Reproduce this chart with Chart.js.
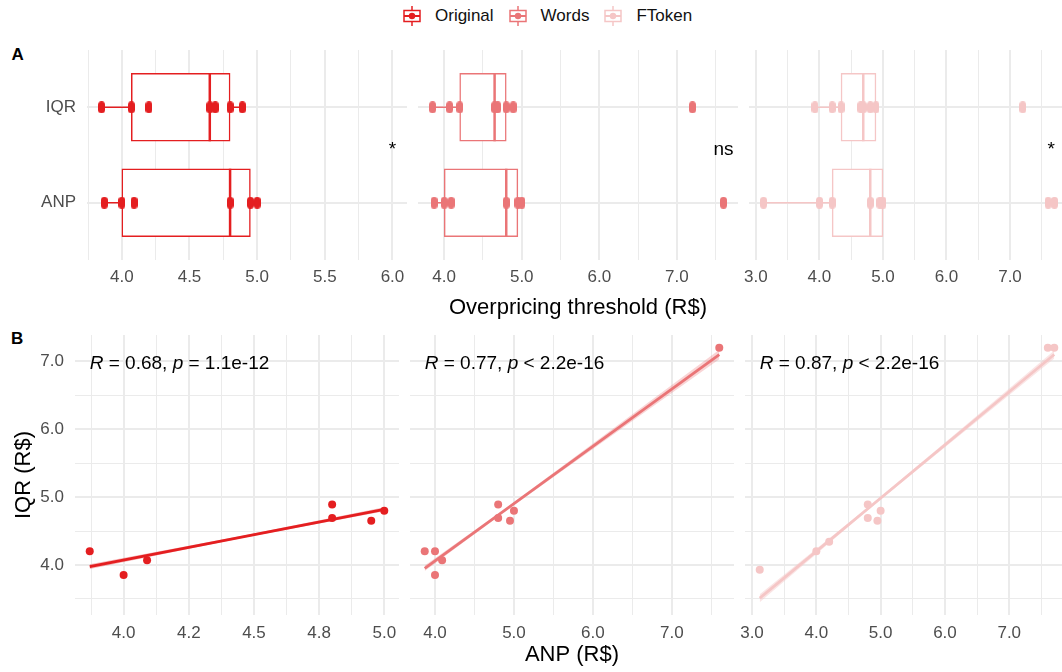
<!DOCTYPE html>
<html>
<head>
<meta charset="utf-8">
<script src="https://cdn.jsdelivr.net/npm/chart.js@4.4.1/dist/chart.umd.min.js"></script>
<style>
  html, body { margin: 0; padding: 0; background: #fff; }
  #fig { position: relative; width: 1062px; height: 672px; overflow: hidden; font-family: "Liberation Sans", Arial, sans-serif; }
  #fig canvas.plot { position: absolute; }
  .tag { position: absolute; font-weight: bold; font-size: 17px; line-height: 1; color: #000; }
  #legend { position: absolute; left: 403px; top: 6px; height: 20px; display: flex; align-items: center; font-size: 17px; line-height: 20px; color: #111; white-space: nowrap; }
  #legend .item { display: flex; align-items: center; margin-right: 15px; }
  #legend canvas { margin-right: 14px; }
</style>
</head>
<body>
<div id="fig">
  <div id="legend"></div>
  <div class="tag" style="left:11.5px; top:45.5px;">A</div>
  <div class="tag" style="left:11px; top:329.5px;">B</div>
  <canvas class="plot" id="a1" width="407" height="272" style="left:0px; top:50px;"></canvas>
  <canvas class="plot" id="a2" width="334" height="272" style="left:404px; top:50px;"></canvas>
  <canvas class="plot" id="a3" width="334" height="272" style="left:735px; top:50px;"></canvas>
  <canvas class="plot" id="b1" width="399" height="334" style="left:0px; top:335px;"></canvas>
  <canvas class="plot" id="b2" width="338" height="334" style="left:396px; top:335px;"></canvas>
  <canvas class="plot" id="b3" width="338" height="334" style="left:731px; top:335px;"></canvas>
</div>
<script>
const FONT = '"Liberation Sans", Arial, sans-serif';
Chart.defaults.font.family = FONT;
Chart.defaults.animation = false;

const methods = ['Original', 'Words', 'FToken'];
const methodColors = ['rgb(228,30,32)', 'rgb(234,117,119)', 'rgb(245,198,198)'];
const bandColors = ['rgba(228,30,32,0.3)', 'rgba(234,117,119,0.3)', 'rgba(245,198,198,0.45)'];

// thresholds (R$) per product, ANP and IQR, for each text source
const anpOriginal = [3.87, 4.0, 4.09, 4.8, 4.95, 5.0];
const iqrOriginal = [3.85, 4.07, 4.2, 4.65, 4.69, 4.8, 4.89];
const anpWords = [3.87, 4.0, 4.09, 4.8, 4.95, 5.0, 7.6];
const iqrWords = [3.85, 4.07, 4.2, 4.65, 4.69, 4.8, 4.89, 7.2];
const anpFToken = [3.12, 4.0, 4.2, 4.8, 4.95, 5.0, 7.6, 7.7];
const iqrFToken = [3.93, 4.2, 4.34, 4.65, 4.69, 4.8, 4.89, 7.2];

// box stats: lower whisker, q1, median, q3, upper whisker
const boxAnpOriginal = [3.87, 4.0, 4.8, 4.95, 5.0];
const boxIqrOriginal = [3.85, 4.07, 4.65, 4.8, 4.89];
const boxAnpWords = [3.87, 4.0, 4.8, 4.95, 5.0];
const boxIqrWords = [3.85, 4.2, 4.65, 4.8, 4.89];
const boxAnpFToken = [3.12, 4.2, 4.8, 5.0, 5.0];
const boxIqrFToken = [3.93, 4.34, 4.69, 4.89, 4.89];

const sigLabels = ['*', 'ns', '*'];
const sigX = [6.0, 7.6, 7.65];

// panel B: pairs (ANP, IQR)
const pairAnpOriginal = [3.87, 4.0, 4.09, 4.8, 4.8, 4.95, 5.0];
const pairIqrOriginal = [4.2, 3.85, 4.07, 4.89, 4.69, 4.65, 4.8];
const pairAnpWords = [3.87, 4.0, 4.0, 4.09, 4.8, 4.8, 4.95, 5.0, 7.6];
const pairIqrWords = [4.2, 4.2, 3.85, 4.07, 4.89, 4.69, 4.65, 4.8, 7.2];
const pairAnpFToken = [3.12, 4.0, 4.2, 4.8, 4.8, 4.95, 5.0, 7.6, 7.7];
const pairIqrFToken = [3.93, 4.2, 4.34, 4.89, 4.69, 4.65, 4.8, 7.2, 7.2];

// fitted lines and their bands
const fitX = [[3.87, 5.0], [3.87, 7.6], [3.12, 7.7]];
const fitY = [[3.975, 4.82], [3.95, 7.10], [3.51, 7.10]];
const bandX = [[3.87, 4.45, 5.0], [3.87, 4.9, 7.6], [3.12, 4.9, 7.7]];
const bandLo = [[3.94, 4.395, 4.79], [3.91, 4.80, 7.03], [3.45, 4.885, 7.04]];
const bandHi = [[4.01, 4.425, 4.85], [3.99, 4.84, 7.17], [3.57, 4.925, 7.16]];

const corR = ['0.68', '0.77', '0.87'];
const corP = ['= 1.1e-12', '< 2.2e-16', '< 2.2e-16'];
const corLabelY = 6.88;

// axes
const topRanges = [[3.7425, 6.1075], [3.6625, 7.7875], [2.891, 7.929]];
const bottomRanges = [[3.8135, 5.0565], [3.6835, 7.7865], [2.891, 7.929]];
const xMajors = [[4.0, 4.5, 5.0, 5.5, 6.0], [4, 5, 6, 7], [3, 4, 5, 6, 7]];
const xMajorLabels = [['4.0', '4.5', '5.0', '5.5', '6.0'], ['4.0', '5.0', '6.0', '7.0'], ['3.0', '4.0', '5.0', '6.0', '7.0']];
const xMinors = [[3.75, 4.25, 4.75, 5.25, 5.75], [4.5, 5.5, 6.5, 7.5], [3.5, 4.5, 5.5, 6.5, 7.5]];
const b1Majors = [4.0, 4.25, 4.5, 4.75, 5.0];
const b1Labels = ['4.0', '4.2', '4.5', '4.8', '5.0'];
const b1Minors = [3.875, 4.125, 4.375, 4.625, 4.875];
const yRangeB = [3.2625, 7.3875];
const yMajorsB = [4, 5, 6, 7];
const yLabelsB = ['4.0', '5.0', '6.0', '7.0'];
const yMinorsB = [3.5, 4.5, 5.5, 6.5];
const groupNames = ['ANP', 'IQR'];

const anpBy = [anpOriginal, anpWords, anpFToken];
const iqrBy = [iqrOriginal, iqrWords, iqrFToken];
const boxAnpBy = [boxAnpOriginal, boxAnpWords, boxAnpFToken];
const boxIqrBy = [boxIqrOriginal, boxIqrWords, boxIqrFToken];
const pairAnpBy = [pairAnpOriginal, pairAnpWords, pairAnpFToken];
const pairIqrBy = [pairIqrOriginal, pairIqrWords, pairIqrFToken];

// left gutter (px) of the canvases whose y labels are hidden, so edge tick labels are not cut
const GUTTER = 14;

function pill(color) {
  const c = document.createElement('canvas');
  c.width = 7; c.height = 12;
  const g = c.getContext('2d');
  g.fillStyle = color;
  g.beginPath();
  g.arc(3.5, 3.5, 3.5, Math.PI, 0);
  g.lineTo(7, 8.5);
  g.arc(3.5, 8.5, 3.5, 0, Math.PI);
  g.closePath();
  g.fill();
  return c;
}

function valueScale(range, majors, labels, minors, o) {
  return {
    type: 'linear', min: range[0], max: range[1], offset: false,
    afterBuildTicks: s => { s.ticks = majors.concat(minors).sort((a, b) => a - b).map(v => ({ value: v })); },
    afterFit: s => {
      if (s.isHorizontal()) s.height = o.size; else s.width = o.size;
      // keep the panel area fixed: no extra room for label overflow
      s.paddingTop = 0; s.paddingBottom = 0; s.paddingLeft = 0; s.paddingRight = 0;
    },
    ticks: {
      display: o.labels, autoSkip: false, maxRotation: 0, minRotation: 0, padding: o.pad,
      color: '#4d4d4d', font: { size: 17 },
      callback: v => { const i = majors.indexOf(v); return i < 0 ? '' : labels[i]; }
    },
    grid: { offset: false, drawTicks: false, color: '#ebebeb', lineWidth: c => (c.tick && minors.indexOf(c.tick.value) >= 0) ? 1 : 2 },
    border: { display: false },
    title: o.title ? { display: true, text: o.title, color: '#000', font: { size: 22 }, padding: o.titlePad } : { display: false }
  };
}

const notesPlugin = {
  id: 'notes',
  afterDatasetsDraw(chart, args, opts) {
    const ctx = chart.ctx;
    const items = opts.items || [];
    items.forEach(it => {
      let x = chart.scales.x.getPixelForValue(it.x);
      const y = chart.scales.y.getPixelForValue(it.y);
      ctx.save();
      ctx.fillStyle = '#000';
      ctx.textBaseline = 'alphabetic';
      if (it.center) {
        ctx.font = '19px ' + FONT;
        ctx.textAlign = 'center';
        ctx.fillText(it.parts[0][0], x, y);
      } else {
        ctx.textAlign = 'left';
        it.parts.forEach(p => {
          ctx.font = (p[1] ? 'italic ' : '') + '19px ' + FONT;
          ctx.fillText(p[0], x, y);
          x += ctx.measureText(p[0]).width;
        });
      }
      ctx.restore();
    });
  }
};

function baseOptions(scales, notes) {
  return {
    responsive: false, animation: false, events: [],
    layout: { padding: 0, autoPadding: false },
    plugins: { legend: { display: false }, tooltip: { enabled: false }, notes: { items: notes } },
    scales: scales
  };
}

function boxChart(id, k) {
  const color = methodColors[k];
  const bA = boxAnpBy[k], bI = boxIqrBy[k];
  const pts = iqrBy[k].map(v => ({ x: v, y: 2 })).concat(anpBy[k].map(v => ({ x: v, y: 1 })));
  const whisk = (a, b, y) => ({
    type: 'line', order: 3, data: [{ x: a, y: y }, { x: b, y: y }],
    borderColor: color, borderWidth: 1.5, pointRadius: 0
  });
  const datasets = [
    { type: 'scatter', order: 0, data: pts, pointStyle: pill(color), pointRadius: 3.5,
      backgroundColor: color, borderColor: color },
    { type: 'scatter', order: 1, data: [{ x: bI[2], y: 2 }, { x: bA[2], y: 1 }],
      pointStyle: 'line', pointRotation: 90, pointRadius: 34, pointBorderWidth: 2.5,
      pointBorderColor: color, borderColor: color },
    { type: 'bar', indexAxis: 'y', order: 2, data: [{ x: [bI[1], bI[3]], y: 2 }, { x: [bA[1], bA[3]], y: 1 }],
      backgroundColor: '#fff', borderColor: color, borderWidth: 1.5, borderSkipped: false, barThickness: 68 },
    whisk(bI[0], bI[1], 2), whisk(bI[3], bI[4], 2),
    whisk(bA[0], bA[1], 1), whisk(bA[3], bA[4], 1)
  ];
  const scales = {
    x: valueScale(topRanges[k], xMajors[k], xMajorLabels[k], xMinors[k],
      { size: 62, pad: 7.3, labels: true, title: k === 1 ? 'Overpricing threshold (R$)' : null, titlePad: { top: 0, bottom: 0.8 } }),
    y: valueScale([0.4, 2.6], [1, 2], groupNames, [],
      { size: k === 0 ? 87 : GUTTER, pad: 11, labels: k === 0 })
  };
  const notes = [{ x: sigX[k], y: 1.5, center: true, parts: [[sigLabels[k], 0]] }];
  new Chart(document.getElementById(id), {
    type: 'scatter', data: { datasets: datasets }, options: baseOptions(scales, notes), plugins: [notesPlugin]
  });
}

function corChart(id, k) {
  const color = methodColors[k];
  const xs = pairAnpBy[k], ys = pairIqrBy[k];
  const datasets = [
    { type: 'scatter', order: 0, data: xs.map((v, i) => ({ x: v, y: ys[i] })),
      pointRadius: 4, backgroundColor: color, borderWidth: 0 },
    { type: 'line', order: 1, data: fitX[k].map((v, i) => ({ x: v, y: fitY[k][i] })),
      borderColor: color, borderWidth: 2.8, pointRadius: 0 },
    { type: 'line', order: 2, data: bandX[k].map((v, i) => ({ x: v, y: bandLo[k][i] })),
      borderWidth: 0, pointRadius: 0, fill: false },
    { type: 'line', order: 2, data: bandX[k].map((v, i) => ({ x: v, y: bandHi[k][i] })),
      borderWidth: 0, pointRadius: 0, fill: '-1', backgroundColor: bandColors[k] }
  ];
  const xm = k === 0 ? b1Majors : xMajors[k];
  const xl = k === 0 ? b1Labels : xMajorLabels[k];
  const xn = k === 0 ? b1Minors : xMinors[k];
  const scales = {
    x: valueScale(bottomRanges[k], xm, xl, xn,
      { size: 54, pad: 8.5, labels: true, title: k === 1 ? 'ANP (R$)' : null, titlePad: { top: 0, bottom: 0.8 } }),
    y: valueScale(yRangeB, yMajorsB, yLabelsB, yMinorsB,
      { size: k === 0 ? 75 : GUTTER, pad: 11, labels: k === 0, title: k === 0 ? 'IQR (R$)' : null, titlePad: { top: 10.8, bottom: 0 } })
  };
  const notes = [{ x: Math.min(...xs), y: corLabelY,
    parts: [['R', 1], [' = ' + corR[k] + ', ', 0], ['p', 1], [' ' + corP[k], 0]] }];
  new Chart(document.getElementById(id), {
    type: 'scatter', data: { datasets: datasets }, options: baseOptions(scales, notes), plugins: [notesPlugin]
  });
}

function legendIcon(color) {
  const c = document.createElement('canvas');
  c.width = 18; c.height = 20;
  const g = c.getContext('2d');
  g.strokeStyle = color; g.fillStyle = color;
  g.lineWidth = 1.5;
  g.beginPath(); g.moveTo(9, 0); g.lineTo(9, 20); g.stroke();
  g.fillStyle = '#fff';
  g.fillRect(1, 4.5, 16, 11);
  g.strokeRect(1, 4.5, 16, 11);
  g.lineWidth = 2;
  g.beginPath(); g.moveTo(1, 10); g.lineTo(17, 10); g.stroke();
  g.fillStyle = color;
  g.beginPath(); g.arc(9, 10, 3.2, 0, Math.PI * 2); g.fill();
  return c;
}

const legend = document.getElementById('legend');
methods.forEach((m, k) => {
  const item = document.createElement('div');
  item.className = 'item';
  item.appendChild(legendIcon(methodColors[k]));
  const t = document.createElement('span');
  t.textContent = m;
  item.appendChild(t);
  legend.appendChild(item);
});

boxChart('a1', 0); boxChart('a2', 1); boxChart('a3', 2);
corChart('b1', 0); corChart('b2', 1); corChart('b3', 2);
</script>
</body>
</html>
